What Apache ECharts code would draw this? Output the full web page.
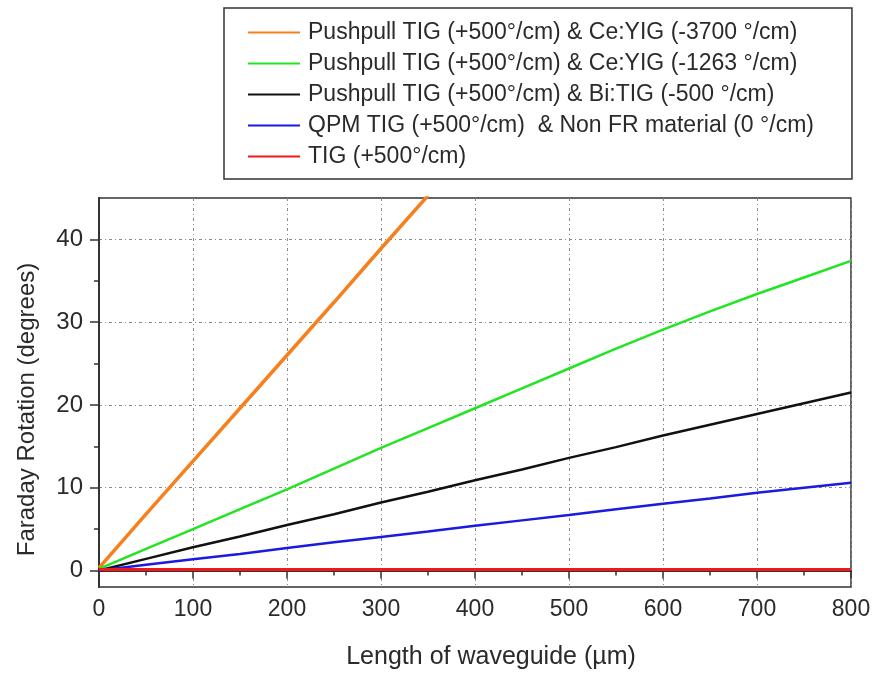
<!DOCTYPE html>
<html>
<head>
<meta charset="utf-8">
<script src="https://cdn.jsdelivr.net/npm/echarts@6/dist/echarts.min.js"></script>
<style>
  html, body { margin: 0; padding: 0; background: #fff; }
  #chart { width: 877px; height: 675px; }
</style>
</head>
<body>
<div id="chart"></div>
<script>
// length of waveguide (um)
var lengthsLong = [0, 50, 100, 150, 200, 250, 300, 350, 400, 450, 500, 550, 600, 650, 700, 750, 800]
var lengthsShort = [0, 50, 100, 150, 200, 250, 300, 350]
// faraday rotation (degrees)
var ceYig3700 = [0.3, 6.8, 13.2, 19.6, 26.0, 32.4, 38.9, 45.3]
var ceYig1263 = [0.2, 2.6, 5.0, 7.4, 9.8, 12.3, 14.8, 17.2, 19.6, 22.0, 24.4, 26.8, 29.1, 31.3, 33.4, 35.4, 37.4]
var biTig500 = [0, 1.4, 2.8, 4.1, 5.5, 6.8, 8.2, 9.5, 10.9, 12.2, 13.6, 14.9, 16.3, 17.6, 18.9, 20.2, 21.5]
var qpmTig = [0, 0.7, 1.35, 2.0, 2.7, 3.4, 4.05, 4.7, 5.4, 6.05, 6.7, 7.4, 8.05, 8.7, 9.4, 10.0, 10.6]
var tigOnly = [0.1, 0.1, 0.1, 0.1, 0.1, 0.1, 0.1, 0.1, 0.1, 0.1, 0.1, 0.1, 0.1, 0.1, 0.1, 0.1, 0.1]

var seriesNames = [
  'Pushpull TIG (+500°/cm) & Ce:YIG (-3700 °/cm)',
  'Pushpull TIG (+500°/cm) & Ce:YIG (-1263 °/cm)',
  'Pushpull TIG (+500°/cm) & Bi:TIG (-500 °/cm)',
  'QPM TIG (+500°/cm)  & Non FR material (0 °/cm)',
  'TIG (+500°/cm)'
]
var yMajorTicks = [0, 10, 20, 30, 40]
var yMinorTicks = [5, 15, 25, 35]

function pairs(xs, ys) {
  return ys.map(function(v, i) { return [xs[i], v] })
}

var font = 'Liberation Sans, Arial, sans-serif'
var gridDash = { color: '#8a8a8a', width: 1, type: [3, 3, 1, 3] }

var chart = echarts.init(document.getElementById('chart'))
chart.setOption({
  animation: false,
  color: ['#f7801e', '#22e522', '#111111', '#1a1ae0', '#f01818'],
  textStyle: { fontFamily: font },
  grid: {
    left: 99,
    right: 26,
    top: 198,
    bottom: 87,
    show: true,
    borderColor: '#333',
    borderWidth: 1.5
  },
  legend: {
    orient: 'vertical',
    left: 224,
    top: 8,
    icon: 'rect',
    itemWidth: 52,
    itemHeight: 2,
    itemGap: 8,
    padding: [13, 38, 11, 24],
    borderColor: '#333',
    borderWidth: 1.5,
    textStyle: {
      fontSize: 23,
      color: '#2a2a2a',
      padding: [0, 0, 0, 3]
    },
    data: seriesNames
  },
  xAxis: {
    type: 'value',
    min: 0,
    max: 800,
    interval: 100,
    name: 'Length of waveguide (µm)',
    nameLocation: 'middle',
    nameGap: 58,
    nameTextStyle: { fontSize: 25, color: '#2a2a2a', padding: [0, 0, 0, 32] },
    axisLine: { lineStyle: { color: '#333', width: 2 } },
    axisTick: { length: 8, lineStyle: { color: '#333', width: 1.5 } },
    minorTick: { show: true, splitNumber: 2, length: 5, lineStyle: { color: '#333', width: 1.5 } },
    axisLabel: { fontSize: 23, color: '#2a2a2a', margin: 11 },
    splitLine: { show: true, lineStyle: gridDash }
  },
  yAxis: [
    {
      type: 'value',
      min: -2,
      max: 45,
      name: 'Faraday Rotation (degrees)',
      nameLocation: 'middle',
      nameGap: 60,
      nameTextStyle: { fontSize: 24, color: '#2a2a2a', padding: [0, 34, 0, 0] },
      axisLine: { show: true, lineStyle: { color: '#333', width: 2 } },
      axisTick: { show: true, length: 9, customValues: yMajorTicks, lineStyle: { color: '#333', width: 1.5 } },
      axisLabel: { fontSize: 24, color: '#2a2a2a', margin: 16, customValues: yMajorTicks },
      splitLine: { show: true, lineStyle: gridDash }
    },
    {
      // minor ticks only
      type: 'value',
      position: 'left',
      min: -2,
      max: 45,
      axisLine: { show: false },
      axisTick: { show: true, length: 5, customValues: yMinorTicks, lineStyle: { color: '#333', width: 1.5 } },
      axisLabel: { show: false },
      splitLine: { show: false }
    }
  ],
  series: [
    { name: seriesNames[0], type: 'line', showSymbol: false, clip: true, lineStyle: { width: 3.5 }, data: pairs(lengthsShort, ceYig3700) },
    { name: seriesNames[1], type: 'line', showSymbol: false, lineStyle: { width: 2.5 }, data: pairs(lengthsLong, ceYig1263) },
    { name: seriesNames[2], type: 'line', showSymbol: false, lineStyle: { width: 2.5 }, data: pairs(lengthsLong, biTig500) },
    { name: seriesNames[3], type: 'line', showSymbol: false, lineStyle: { width: 2.5 }, data: pairs(lengthsLong, qpmTig) },
    { name: seriesNames[4], type: 'line', showSymbol: false, lineStyle: { width: 3 }, data: pairs(lengthsLong, tigOnly) }
  ]
})
</script>
</body>
</html>
